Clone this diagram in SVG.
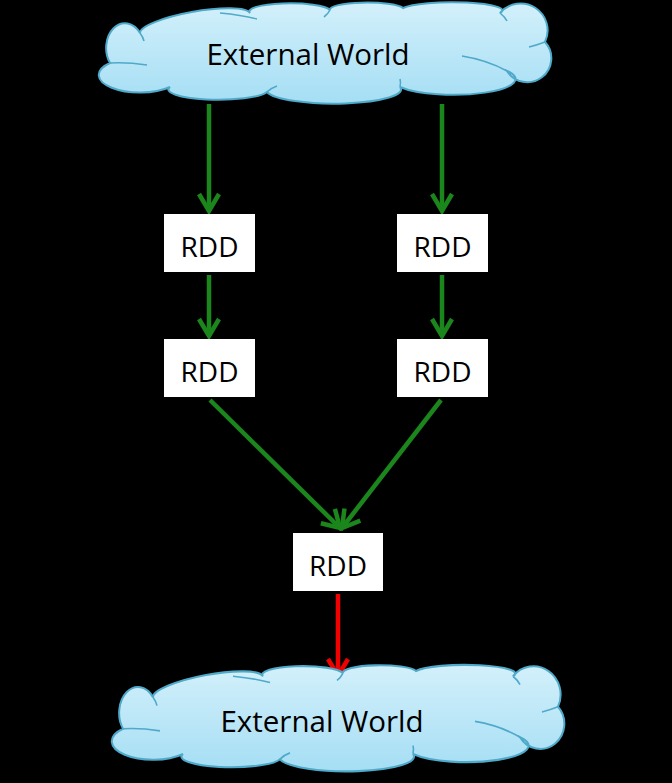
<svg xmlns="http://www.w3.org/2000/svg" width="672" height="783" viewBox="0 0 672 783">
<style>
.cloud{fill:url(#cg);stroke:#4fa9c9;stroke-width:2}
.inner{fill:none;stroke:#4fa9c9;stroke-width:1.6}
.box{fill:#fff}
.lbl{font-family:"Open Sans","Liberation Sans",sans-serif;font-size:28px;fill:#000;text-anchor:middle}
.big{font-size:29.5px}
.g{stroke:#1b861b;stroke-width:4.5;fill:none}
.r{stroke:#f00000;stroke-width:4.5;fill:none}
</style>
<defs>
<linearGradient id="cg" x1="0" y1="0" x2="0" y2="1">
<stop offset="0" stop-color="#d3f0fb"/>
<stop offset="1" stop-color="#a5def4"/>
</linearGradient>
<marker id="ag" viewBox="-22 -13 26 26" refX="0" refY="0" markerWidth="26" markerHeight="26" markerUnits="userSpaceOnUse" orient="auto">
<path d="M-17,-10 L0,0 L-17,10" fill="none" stroke="#1b861b" stroke-width="4.5"/>
</marker>
<marker id="ar" viewBox="-22 -13 26 26" refX="0" refY="0" markerWidth="26" markerHeight="26" markerUnits="userSpaceOnUse" orient="auto">
<path d="M-17,-10 L0,0 L-17,10" fill="none" stroke="#f00000" stroke-width="4.5"/>
</marker>
<g id="cloudShape">
<path class="cloud" d="M43,25 A56 12 -10 0 1 153,5 A40 8 0 0 1 233,2 A37 7 0 0 1 306,0 A49 8 0 0 1 403,5 A27 27 0 0 1 448,34 A24 24 0 1 1 410,63 A55 14 0 0 1 303,79 A67 14 0 0 1 170,84 A49 10 0 0 1 73,79 A33 14 0 0 1 13,55 A16 21 0 0 1 43,25 Z"/>
<path class="inner" d="M13,55 Q30,54 50,57"/>
<path class="inner" d="M43,25 Q46,29 47,33"/>
<path class="inner" d="M123,5 Q145,7 160,11"/>
<path class="inner" d="M233,2 Q231,6 227,9"/>
<path class="inner" d="M403,5 Q408,9 410,13"/>
<path class="inner" d="M448,34 Q440,37 432,39"/>
<path class="inner" d="M410,63 Q390,52 365,48"/>
<path class="inner" d="M170,84 Q174,80 180,78"/>
<path class="inner" d="M303,79 Q304,74 303,71"/>
</g>
</defs>
<rect width="672" height="783" fill="#000"/>
<g id="connectors">
<line class="g" x1="209" y1="104" x2="209" y2="211" marker-end="url(#ag)"/>
<line class="g" x1="442" y1="104" x2="442" y2="211" marker-end="url(#ag)"/>
<line class="g" x1="209" y1="275" x2="209" y2="336" marker-end="url(#ag)"/>
<line class="g" x1="442" y1="275" x2="442" y2="336" marker-end="url(#ag)"/>
<line class="g" x1="210" y1="400" x2="340" y2="528" marker-end="url(#ag)"/>
<line class="g" x1="441" y1="400" x2="342" y2="528" marker-end="url(#ag)"/>
<line class="r" x1="338" y1="594" x2="338" y2="676" marker-end="url(#ar)"/>
</g>
<g id="world-top">
<use href="#cloudShape" transform="translate(97,8)"/>
<text class="lbl big" x="308" y="65">External World</text>
</g>
<g id="rdd-l1"><rect class="box" x="164" y="214" width="91" height="58"/><text class="lbl" x="209.5" y="257">RDD</text></g>
<g id="rdd-r1"><rect class="box" x="397" y="214" width="91" height="58"/><text class="lbl" x="442.5" y="257">RDD</text></g>
<g id="rdd-l2"><rect class="box" x="164" y="339" width="91" height="58"/><text class="lbl" x="209.5" y="382">RDD</text></g>
<g id="rdd-r2"><rect class="box" x="397" y="339" width="91" height="58"/><text class="lbl" x="442.5" y="382">RDD</text></g>
<g id="rdd-c"><rect class="box" x="293" y="533" width="90" height="58"/><text class="lbl" x="338" y="576">RDD</text></g>
<g id="world-bottom">
<use href="#cloudShape" transform="translate(110,671) scale(1,1.05)"/>
<text class="lbl big" x="322" y="732">External World</text>
</g>
</svg>
